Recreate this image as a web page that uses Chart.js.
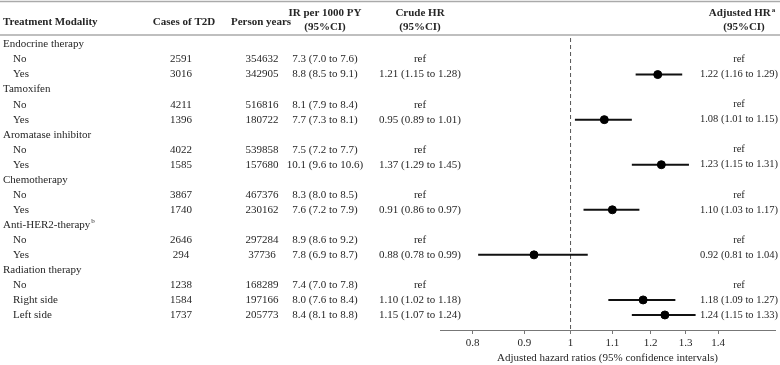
<!DOCTYPE html>
<html lang="en">
<head>
    <meta charset="UTF-8">
    <title>Forest plot - treatment modality and T2D</title>
    <script src="https://cdn.jsdelivr.net/npm/chart.js"></script>
    <style>
        body { margin: 0; background: #fff; }
        #wrap { width: 780px; height: 365px; position: relative; }
    </style>
</head>
<body>
    <div id="wrap"><canvas id="forestChart"></canvas></div>

    <script>
        // Table data
        const groupNames = ['Endocrine therapy', 'Tamoxifen', 'Aromatase inhibitor', 'Chemotherapy', 'Anti-HER2-therapy', 'Radiation therapy'];
        const groupSup = ['', '', '', '', 'b', ''];
        const groupLevels = [['No', 'Yes'], ['No', 'Yes'], ['No', 'Yes'], ['No', 'Yes'], ['No', 'Yes'], ['No', 'Right side', 'Left side']];

        const cases = [2591, 3016, 4211, 1396, 4022, 1585, 3867, 1740, 2646, 294, 1238, 1584, 1737];
        const personYears = [354632, 342905, 516816, 180722, 539858, 157680, 467376, 230162, 297284, 37736, 168289, 197166, 205773];
        const ir = ['7.3', '8.8', '8.1', '7.7', '7.5', '10.1', '8.3', '7.6', '8.9', '7.8', '7.4', '8.0', '8.4'];
        const irLo = ['7.0', '8.5', '7.9', '7.3', '7.2', '9.6', '8.0', '7.2', '8.6', '6.9', '7.0', '7.6', '8.1'];
        const irHi = ['7.6', '9.1', '8.4', '8.1', '7.7', '10.6', '8.5', '7.9', '9.2', '8.7', '7.8', '8.4', '8.8'];
        const crudeHr = [null, '1.21', null, '0.95', null, '1.37', null, '0.91', null, '0.88', null, '1.10', '1.15'];
        const crudeLo = [null, '1.15', null, '0.89', null, '1.29', null, '0.86', null, '0.78', null, '1.02', '1.07'];
        const crudeHi = [null, '1.28', null, '1.01', null, '1.45', null, '0.97', null, '0.99', null, '1.18', '1.24'];
        const adjHr = [null, 1.22, null, 1.08, null, 1.23, null, 1.10, null, 0.92, null, 1.18, 1.24];
        const adjLo = [null, 1.16, null, 1.01, null, 1.15, null, 1.03, null, 0.81, null, 1.09, 1.15];
        const adjHi = [null, 1.29, null, 1.15, null, 1.31, null, 1.17, null, 1.04, null, 1.27, 1.33];

        // Axis ticks
        const tickValues = [0.8, 0.9, 1, 1.1, 1.2, 1.3, 1.4];
        const tickLabels = ['0.8', '0.9', '1', '1.1', '1.2', '1.3', '1.4'];

        // Build rows: group header rows and level rows (with index into the data arrays)
        const rows = [];
        let k = 0;
        groupNames.forEach((g, gi) => {
            rows.push({ label: g, sup: groupSup[gi], group: true });
            groupLevels[gi].forEach(lv => {
                rows.push({ label: lv, group: false, i: k });
                k++;
            });
        });

        const fmt = (v, lo, hi) => v + ' (' + lo + ' to ' + hi + ')';

        // Points and CI lines
        const points = [];
        const ciSets = [];
        rows.forEach((r, ri) => {
            if (r.group || adjHr[r.i] === null) return;
            points.push({ x: adjHr[r.i], y: ri });
            ciSets.push({
                type: 'line',
                data: [{ x: adjLo[r.i], y: ri }, { x: adjHi[r.i], y: ri }],
                borderColor: '#111',
                borderWidth: 2,
                pointRadius: 0,
                showLine: true
            });
        });

        const FONT = '"Liberation Serif", "Times New Roman", serif';
        const TXT = '#262626';

        const tablePlugin = {
            id: 'tablePlugin',
            beforeDatasetsDraw(chart) {
                const ctx = chart.ctx;
                const x = chart.scales.x.getPixelForValue(1);
                ctx.save();
                ctx.strokeStyle = '#555';
                ctx.lineWidth = 1;
                ctx.setLineDash([4, 3]);
                ctx.beginPath();
                ctx.moveTo(x, chart.chartArea.top + 1);
                ctx.lineTo(x, chart.chartArea.bottom);
                ctx.stroke();
                ctx.restore();
            },
            afterDraw(chart) {
                const ctx = chart.ctx;
                const ys = chart.scales.y;
                ctx.save();

                // rules
                ctx.strokeStyle = '#aaa';
                ctx.lineWidth = 1.5;
                ctx.beginPath();
                ctx.moveTo(0, 1.5); ctx.lineTo(780, 1.5);
                ctx.moveTo(0, 35); ctx.lineTo(780, 35);
                ctx.stroke();

                ctx.fillStyle = TXT;
                ctx.textBaseline = 'middle';

                // header
                ctx.font = 'bold 11px ' + FONT;
                ctx.textAlign = 'left';
                ctx.fillText('Treatment Modality', 3, 22);
                ctx.textAlign = 'center';
                ctx.fillText('Cases of T2D', 184, 22);
                ctx.fillText('Person years', 261, 22);
                ctx.fillText('IR per 1000 PY', 325, 13);
                ctx.fillText('(95%CI)', 325, 27);
                ctx.fillText('Crude HR', 420, 13);
                ctx.fillText('(95%CI)', 420, 27);
                ctx.fillText('(95%CI)', 744, 27);
                const t = 'Adjusted HR';
                const w1 = ctx.measureText(t).width;
                ctx.font = 'bold 7px ' + FONT;
                const w2 = ctx.measureText('a').width;
                const sx = 742 - (w1 + w2 + 1) / 2;
                ctx.textAlign = 'left';
                ctx.fillText('a', sx + w1 + 1, 10);
                ctx.font = 'bold 11px ' + FONT;
                ctx.fillText(t, sx, 13);

                // body
                rows.forEach((r, ri) => {
                    const y = ys.getPixelForValue(ri);
                    ctx.font = '11px ' + FONT;
                    ctx.textAlign = 'left';
                    if (r.group) {
                        ctx.fillText(r.label, 3, y);
                        if (r.sup) {
                            const w = ctx.measureText(r.label).width;
                            ctx.font = '7px ' + FONT;
                            ctx.fillText(r.sup, 3 + w + 1, y - 4);
                        }
                        return;
                    }
                    const i = r.i;
                    ctx.fillText(r.label, 13, y);
                    ctx.textAlign = 'center';
                    ctx.fillText(String(cases[i]), 181, y);
                    ctx.fillText(String(personYears[i]), 262, y);
                    ctx.fillText(fmt(ir[i], irLo[i], irHi[i]), 325, y);
                    ctx.fillText(crudeHr[i] === null ? 'ref' : fmt(crudeHr[i], crudeLo[i], crudeHi[i]), 420, y);
                    ctx.font = '10.5px ' + FONT;
                    ctx.fillText(adjHr[i] === null ? 'ref' : fmt(adjHr[i].toFixed(2), adjLo[i].toFixed(2), adjHi[i].toFixed(2)), 739, y);
                });
                ctx.restore();
            }
        };

        new Chart(document.getElementById('forestChart'), {
            type: 'scatter',
            data: {
                datasets: [{
                    data: points,
                    backgroundColor: '#000',
                    borderColor: '#000',
                    pointRadius: 4,
                    pointHoverRadius: 4
                }].concat(ciSets)
            },
            options: {
                responsive: true,
                maintainAspectRatio: false,
                animation: false,
                layout: { padding: { left: 440, top: 37, right: 0, bottom: 0 } },
                plugins: { legend: { display: false }, tooltip: { enabled: false } },
                scales: {
                    x: {
                        type: 'logarithmic',
                        min: 0.7425,
                        max: 1.594,
                        afterBuildTicks: (scale) => { scale.ticks = tickValues.map(v => ({ value: v })); },
                        afterFit: (scale) => { scale.height = 35; },
                        grid: { drawOnChartArea: false, drawTicks: true, tickLength: 4, color: '#777' },
                        border: { color: '#777', width: 1 },
                        ticks: {
                            autoSkip: false,
                            maxRotation: 0,
                            padding: 3,
                            color: TXT,
                            font: { family: FONT, size: 11 },
                            callback: (v) => tickLabels[tickValues.indexOf(v)]
                        },
                        title: {
                            display: true,
                            text: 'Adjusted hazard ratios (95% confidence intervals)',
                            color: TXT,
                            font: { family: FONT, size: 11 },
                            padding: { top: 0, bottom: 0 }
                        }
                    },
                    y: {
                        display: false,
                        min: -0.5,
                        max: 19,
                        reverse: true
                    }
                }
            },
            plugins: [tablePlugin]
        });
    </script>
</body>
</html>
